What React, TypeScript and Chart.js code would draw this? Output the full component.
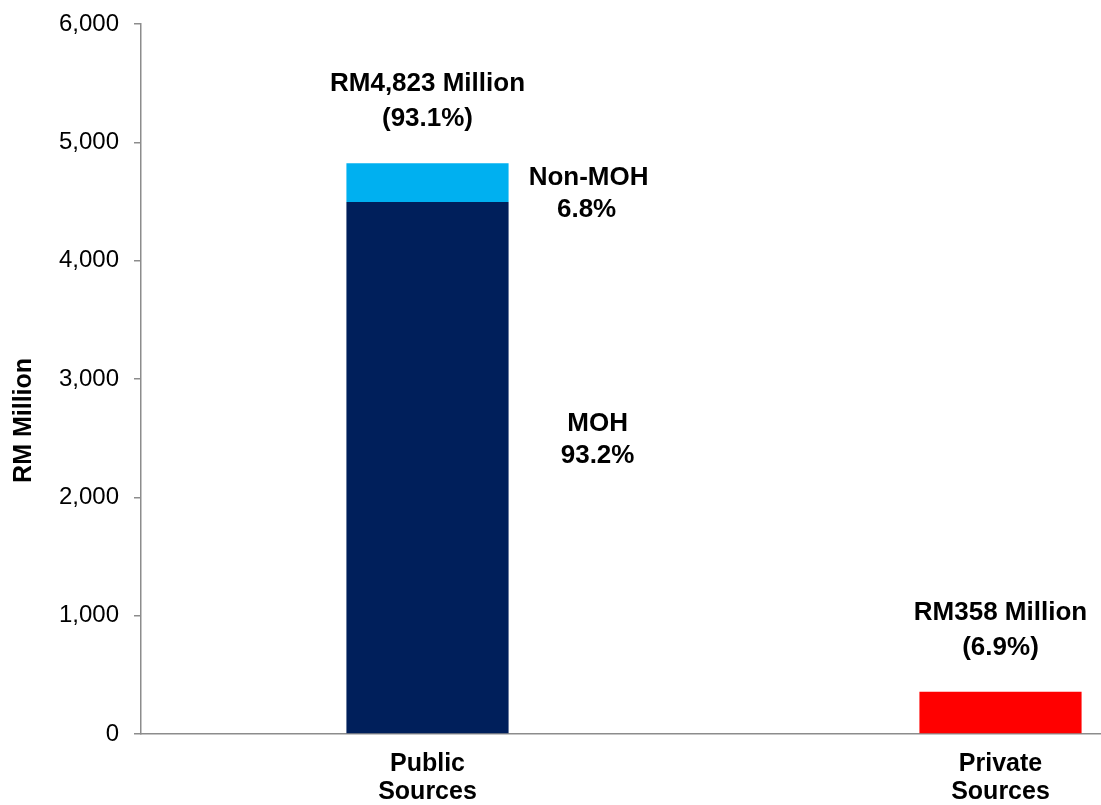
import React, { useEffect, useRef } from 'react';
import { Chart, registerables } from 'chart.js';

Chart.register(...registerables);

const categories: string[][] = [['Public', 'Sources'], ['Private', 'Sources']];
const mohValues: (number | null)[] = [4495, null];
const nonMohValues: (number | null)[] = [328, null];
const privateValues: (number | null)[] = [null, 358];
const totalLabels: string[][] = [['RM4,823 Million', '(93.1%)'], ['RM358 Million', '(6.9%)']];
const mohLabel: string[] = ['MOH', '93.2%'];
const nonMohLabel: string[] = ['Non-MOH', '6.8%'];
const yTitle = 'RM Million';
const yMin = 0;
const yMax = 6000;
const yStep = 1000;

const FONT = '"Liberation Sans", Arial, sans-serif';

const labelPlugin = {
  id: 'customLabels',
  afterDatasetsDraw(chart: any) {
    const ctx = chart.ctx;
    const xs = chart.scales.x;
    const ys = chart.scales.y;
    ctx.save();
    ctx.fillStyle = '#000';
    ctx.textAlign = 'center';
    ctx.textBaseline = 'middle';
    ctx.font = `bold 26px ${FONT}`;
    categories.forEach((_, i) => {
      const total = (mohValues[i] || 0) + (nonMohValues[i] || 0) + (privateValues[i] || 0);
      const px = xs.getPixelForValue(i);
      const top = ys.getPixelForValue(total);
      ctx.fillText(totalLabels[i][0], px, top - 79);
      ctx.fillText(totalLabels[i][1], px, top - 44);
    });
    const nonEl = chart.getDatasetMeta(1).data[0];
    if (nonEl) {
      const right = nonEl.x + nonEl.width / 2;
      const mid = (nonEl.y + nonEl.base) / 2;
      ctx.fillText(nonMohLabel[0], right + 80, mid - 5);
      ctx.fillText(nonMohLabel[1], right + 78, mid + 27);
    }
    const mohEl = chart.getDatasetMeta(0).data[0];
    if (mohEl) {
      const right = mohEl.x + mohEl.width / 2;
      const mid = (mohEl.y + mohEl.base) / 2;
      ctx.fillText(mohLabel[0], right + 89, mid - 44);
      ctx.fillText(mohLabel[1], right + 89, mid - 12);
    }
    // y axis title
    ctx.translate(ys.left + 24, ys.getPixelForValue(2650));
    ctx.rotate(-Math.PI / 2);
    ctx.font = `bold 25px ${FONT}`;
    ctx.fillText(yTitle, 0, 0);
    ctx.restore();
  },
};

export default function App() {
  const canvasRef = useRef<HTMLCanvasElement | null>(null);

  useEffect(() => {
    if (!canvasRef.current) return;
    const chart = new Chart(canvasRef.current, {
      type: 'bar',
      data: {
        labels: categories,
        datasets: [
          { label: 'MOH', data: mohValues, backgroundColor: '#001F5B', categoryPercentage: 1, barPercentage: 0.283 },
          { label: 'Non-MOH', data: nonMohValues, backgroundColor: '#00B0F0', categoryPercentage: 1, barPercentage: 0.283 },
          { label: 'Private', data: privateValues, backgroundColor: '#FF0000', categoryPercentage: 1, barPercentage: 0.283 },
        ],
      },
      options: {
        responsive: false,
        animation: false,
        layout: { padding: { top: 24, right: 0, bottom: 0, left: 0 } },
        plugins: { legend: { display: false }, tooltip: { enabled: false } },
        scales: {
          x: {
            stacked: true,
            grid: { display: true, drawOnChartArea: false, drawTicks: false },
            border: { display: true, color: '#8c8c8c', width: 1.5 },
            ticks: {
              color: '#000',
              padding: 16,
              font: { family: FONT, size: 25, weight: 'bold', lineHeight: 1.13 },
              maxRotation: 0,
            },
            afterFit: (scale: any) => { scale.height = 71; },
          },
          y: {
            stacked: true,
            min: yMin,
            max: yMax,
            grid: { display: true, drawOnChartArea: false, drawTicks: true, tickLength: 7, color: '#8c8c8c', lineWidth: 1.5 },
            border: { display: true, color: '#8c8c8c', width: 1.5 },
            ticks: {
              stepSize: yStep,
              color: '#000',
              padding: 15,
              font: { family: FONT, size: 24 },
            },
            afterFit: (scale: any) => { scale.width = 141; scale.paddingTop = 0; scale.paddingBottom = 0; },
          },
        },
      },
      plugins: [labelPlugin],
    });
    return () => chart.destroy();
  }, []);

  return (
    <div style={{ position: 'fixed', left: 0, top: 0, width: 1101, height: 805, overflow: 'hidden', background: '#fff' }}>
      <canvas ref={canvasRef} width={1287} height={805} style={{ display: 'block' }} />
    </div>
  );
}
